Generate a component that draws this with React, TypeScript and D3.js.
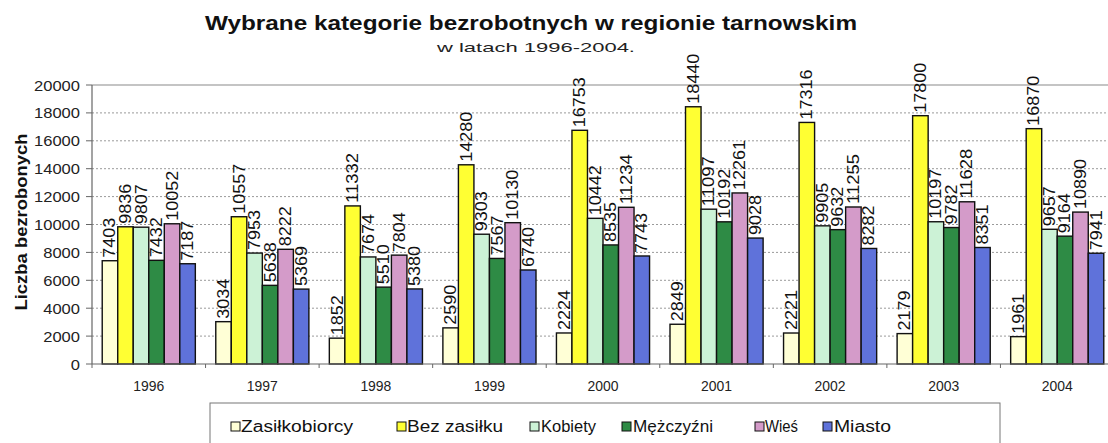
import React from "react";
import * as d3 from "d3";

const years = ["1996", "1997", "1998", "1999", "2000", "2001", "2002", "2003", "2004"];
const seriesNames = ["Zasiłkobiorcy", "Bez zasiłku", "Kobiety", "Mężczyźni", "Wieś", "Miasto"];
const seriesColors = ["#FFFFD6", "#FFFF33", "#CCF2D6", "#2E8B45", "#D49BC9", "#5F72DA"];
const zasilkobiorcy = [7403, 3034, 1852, 2590, 2224, 2849, 2221, 2179, 1961];
const bezZasilku = [9836, 10557, 11332, 14280, 16753, 18440, 17316, 17800, 16870];
const kobiety = [9807, 7953, 7674, 9303, 10442, 11097, 9905, 10197, 9657];
const mezczyzni = [7432, 5638, 5510, 7567, 8535, 10192, 9632, 9782, 9164];
const wies = [10052, 8222, 7804, 10130, 11234, 12261, 11255, 11628, 10890];
const miasto = [7187, 5369, 5380, 6740, 7743, 9028, 8282, 8351, 7941];
const yTicks = [0, 2000, 4000, 6000, 8000, 10000, 12000, 14000, 16000, 18000, 20000];

const series = [zasilkobiorcy, bezZasilku, kobiety, mezczyzni, wies, miasto];

const W = 1108;
const H = 443;
const plotLeft = 92;
const plotRight = 1114;
const plotTop = 85;
const plotBottom = 364;

const legendItems = [
  { sq: 231, tx: 240, len: 112 },
  { sq: 397, tx: 406, len: 96 },
  { sq: 530, tx: 540, len: 55 },
  { sq: 622, tx: 632, len: 80 },
  { sq: 755, tx: 764, len: 33 },
  { sq: 823, tx: 833, len: 57 },
];

export default function App() {
  const x0 = d3.scaleBand<string>().domain(years).range([plotLeft, plotRight]).paddingInner(0.18).paddingOuter(0.09);
  const x1 = d3.scaleBand<number>().domain(d3.range(series.length)).range([0, x0.bandwidth()]);
  const xStep = d3.scaleBand<string>().domain(years).range([plotLeft, plotRight]);
  const y = d3.scaleLinear().domain([0, 20000]).range([plotBottom, plotTop]);
  const font = "'Liberation Sans', Arial, sans-serif";

  return (
    <svg width={W} height={H} style={{ position: "absolute", left: 0, top: 0, background: "#fff" }} fontFamily={font}>
      <rect x={0} y={0} width={W} height={H} fill="#fff" />
      <text x={531} y={30} textAnchor="middle" fontSize={20} fontWeight="bold" textLength={652} lengthAdjust="spacingAndGlyphs" fill="#111">
        Wybrane kategorie bezrobotnych w regionie tarnowskim
      </text>
      <text x={536} y={52} textAnchor="middle" fontSize={13} textLength={198} lengthAdjust="spacingAndGlyphs" fill="#222">
        w latach 1996-2004.
      </text>

      {/* gridlines */}
      {yTicks.map((t) =>
        t === 0 ? null : (
          <line
            key={t}
            x1={plotLeft}
            x2={W}
            y1={y(t)}
            y2={y(t)}
            stroke={t === 20000 ? "#8a8a8a" : "#9a9a9a"}
            strokeWidth={t === 20000 ? 1.2 : 1}
            strokeDasharray={t === 20000 ? undefined : "2,2"}
          />
        )
      )}

      {/* y axis */}
      <line x1={plotLeft} x2={plotLeft} y1={plotTop} y2={plotBottom} stroke="#666" strokeWidth={1.2} />
      {yTicks.map((t) => (
        <g key={"yt" + t}>
          <line x1={plotLeft - 6} x2={plotLeft} y1={y(t)} y2={y(t)} stroke="#666" />
          <text
            x={80}
            y={y(t) + 5.5}
            textAnchor="end"
            fontSize={15}
            textLength={String(t).length * 9.2}
            lengthAdjust="spacingAndGlyphs"
            fill="#222"
          >
            {t}
          </text>
        </g>
      ))}
      <text
        transform={`translate(27, 222) rotate(-90)`}
        textAnchor="middle"
        fontSize={16.5}
        fontWeight="bold"
        textLength={177}
        lengthAdjust="spacingAndGlyphs"
        fill="#111"
      >
        Liczba bezrobonych
      </text>

      {/* bars */}
      {years.map((yr, i) => (
        <g key={yr}>
          {series.map((s, j) => {
            const bx = (x0(yr) as number) + (x1(j) as number);
            const by = y(s[i]);
            return (
              <rect
                key={j}
                x={bx}
                y={by}
                width={x1.bandwidth()}
                height={plotBottom - by}
                fill={seriesColors[j]}
                stroke="#111"
                strokeWidth={1.4}
              />
            );
          })}
          {series.map((s, j) => {
            const cx = (x0(yr) as number) + (x1(j) as number) + x1.bandwidth() / 2;
            const by = y(s[i]);
            return (
              <text
                key={"l" + j}
                transform={`translate(${cx + 5.5}, ${by - 3}) rotate(-90)`}
                fontSize={16}
                textLength={String(s[i]).length * 10}
                lengthAdjust="spacingAndGlyphs"
                fill="#111"
              >
                {s[i]}
              </text>
            );
          })}
        </g>
      ))}

      {/* x axis */}
      <line x1={plotLeft} x2={W} y1={plotBottom} y2={plotBottom} stroke="#666" strokeWidth={1.2} />
      {years.map((yr) => (
        <line key={"xt" + yr} x1={xStep(yr)} x2={xStep(yr)} y1={plotBottom} y2={plotBottom + 4} stroke="#666" />
      ))}
      {years.map((yr) => (
        <text
          key={"xl" + yr}
          x={(xStep(yr) as number) + xStep.bandwidth() / 2}
          y={391}
          textAnchor="middle"
          fontSize={15}
          textLength={31}
          lengthAdjust="spacingAndGlyphs"
          fill="#222"
        >
          {yr}
        </text>
      ))}

      {/* legend */}
      <rect x={210} y={403} width={790} height={50} fill="#fff" stroke="#777" strokeWidth={1} />
      {legendItems.map((it, j) => (
        <g key={"lg" + j}>
          <rect x={it.sq} y={422} width={9} height={9} fill={seriesColors[j]} stroke="#111" strokeWidth={1} />
          <text x={it.tx + 1} y={432} fontSize={16} textLength={it.len} lengthAdjust="spacingAndGlyphs" fill="#111">
            {seriesNames[j]}
          </text>
        </g>
      ))}
    </svg>
  );
}
